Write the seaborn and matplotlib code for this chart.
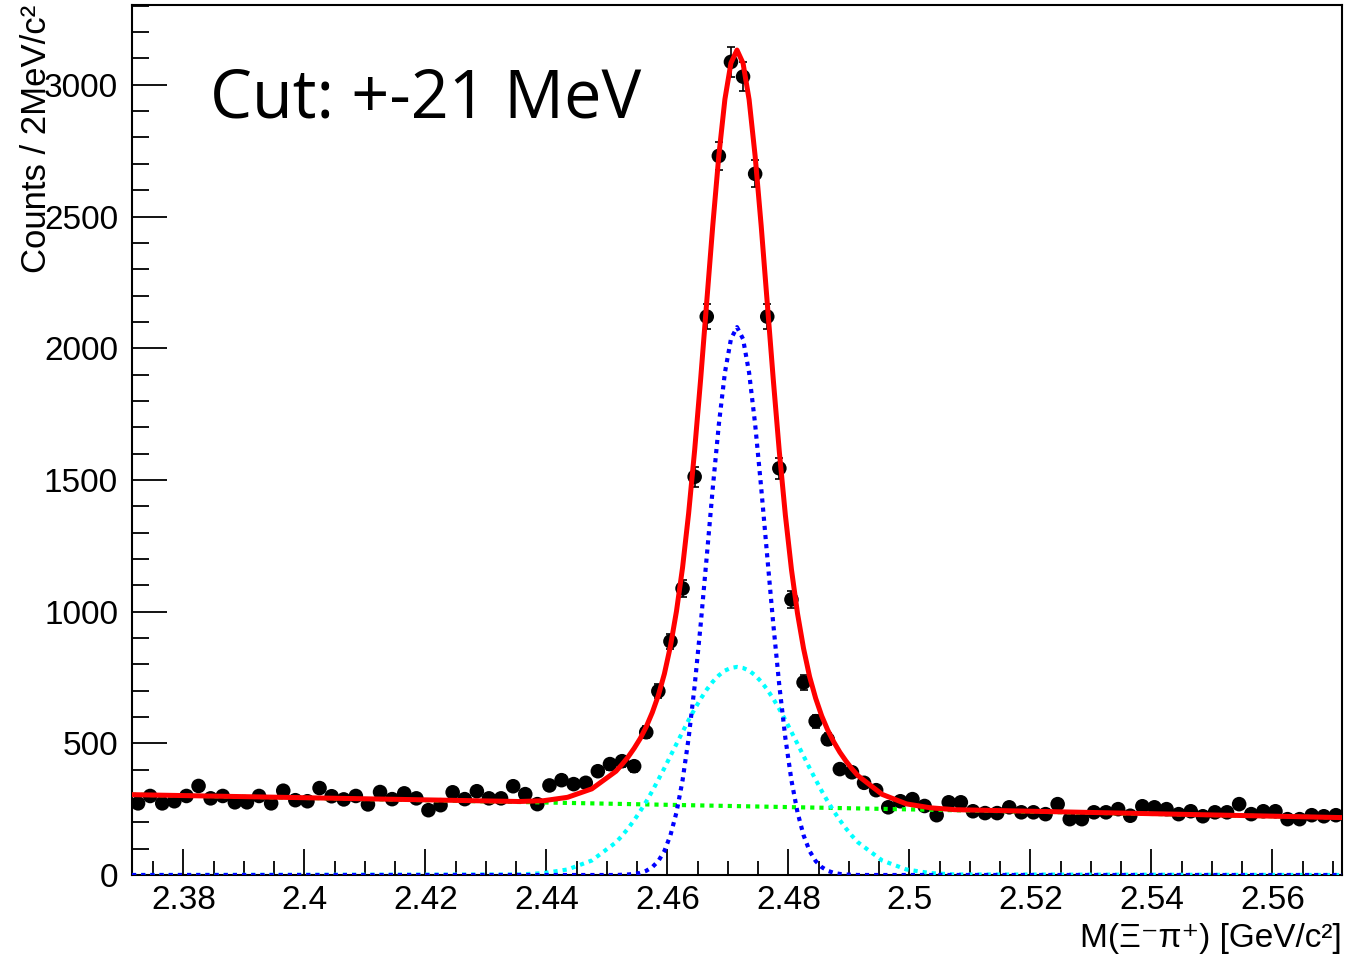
import numpy as np
import pandas as pd
import seaborn as sns
import matplotlib.pyplot as plt
from matplotlib.ticker import MultipleLocator, FormatStrFormatter

# histogram: 100 bins of 2 MeV between 2.3715 and 2.5715 GeV
bin_lo = 2.3715
bin_w = 0.002
counts = [272, 300, 272, 280, 300, 338, 291, 300, 276, 276,
          300, 272, 320, 284, 280, 330, 299, 287, 300, 268,
          315, 288, 310, 291, 246, 265, 314, 288, 318, 291,
          291, 337, 307, 269, 340, 360, 345, 350, 394, 421,
          432, 413, 542, 698, 887, 1088, 1512, 2120, 2730, 3087,
          3031, 2662, 2120, 1544, 1046, 731, 584, 515, 402, 390,
          350, 322, 257, 280, 288, 262, 227, 276, 276, 242,
          235, 235, 257, 238, 238, 231, 269, 212, 212, 238,
          238, 250, 225, 261, 257, 250, 231, 242, 223, 238,
          238, 269, 231, 242, 242, 212, 212, 227, 223, 227]

# fit curves
curve_x = [2.3715, 2.4355, 2.4395, 2.4435, 2.4475,
           2.4515, 2.4525, 2.4535, 2.4545, 2.4555, 2.4565, 2.4575, 2.4585, 2.4595, 2.4605,
           2.4615, 2.4625, 2.4635, 2.4645, 2.4655, 2.4665, 2.4675, 2.4685, 2.4695, 2.4705,
           2.4715,
           2.4725, 2.4735, 2.4745, 2.4755, 2.4765, 2.4775, 2.4785, 2.4795, 2.4805, 2.4815,
           2.4825, 2.4835, 2.4845, 2.4855, 2.4865, 2.4875, 2.4885, 2.4895, 2.4905, 2.4915,
           2.4955, 2.4995, 2.5035, 2.5075, 2.5715]
fit_total = [305, 279, 282, 295, 327,
             394, 420, 448, 481, 518, 563, 617, 682, 764, 869,
             1002, 1167, 1372, 1613, 1885, 2177, 2467, 2732, 2945, 3083,
             3132,
             3082, 2944, 2729, 2464, 2172, 1880, 1606, 1365, 1160, 993,
             860, 753, 671, 604, 550, 505, 466, 433, 403, 377,
             306, 270, 255, 248, 218]
sig_narrow = [0, 0, 0, 0, 0,
              0, 1, 2, 4, 8, 16, 30, 53, 91, 151,
              238, 359, 519, 718, 952, 1209, 1470, 1711, 1907, 2035,
              2080,
              2035, 1907, 1711, 1470, 1209, 952, 718, 519, 359, 238,
              151, 91, 53, 30, 16, 8, 4, 2, 1, 0,
              0, 0, 0, 0, 0]
sig_wide = [0, 2, 7, 21, 55,
            124, 149, 177, 208, 242, 279, 319, 362, 406, 452,
            498, 543, 588, 630, 669, 704, 734, 758, 776, 786,
            790,
            786, 776, 758, 734, 704, 669, 630, 588, 543, 498,
            452, 406, 362, 319, 279, 242, 208, 177, 149, 124,
            55, 21, 7, 2, 0]
bkg_x = [2.3715, 2.5715]
bkg_y = [305, 218]

centers = bin_lo + bin_w * (np.arange(len(counts)) + 0.5)
df = pd.DataFrame({'mass': centers, 'counts': counts})
curves = pd.DataFrame({'mass': curve_x, 'total': fit_total,
                       'narrow': sig_narrow, 'wide': sig_wide})

sns.set_style('ticks')
plt.rcParams['font.family'] = ['Liberation Sans', 'DejaVu Sans']
plt.rcParams['text.color'] = 'black'
plt.rcParams['xtick.color'] = 'black'
plt.rcParams['ytick.color'] = 'black'
plt.rcParams['axes.edgecolor'] = 'black'

W, H = 1346, 957
fig = plt.figure(figsize=(W / 100, H / 100), dpi=100)
ax = fig.add_axes([132 / W, 1 - 875 / H, (1342 - 132) / W, (875 - 5) / H])

ax.errorbar(df['mass'], df['counts'], yerr=np.sqrt(df['counts']), fmt='none',
            ecolor='black', elinewidth=1.2, capsize=3, capthick=1.2, zorder=3)
sns.scatterplot(data=df, x='mass', y='counts', color='black', s=110,
                edgecolor='none', ax=ax, zorder=3, legend=False)

dot = (0, (1, 1.2))
sns.lineplot(x=bkg_x, y=bkg_y, color='#00ff00', lw=3, linestyle=dot,
             estimator=None, sort=False, ax=ax, zorder=4)
sns.lineplot(data=curves, x='mass', y='wide', color='#00ffff', lw=3, linestyle=dot,
             estimator=None, sort=False, ax=ax, zorder=4)
sns.lineplot(data=curves, x='mass', y='narrow', color='#0000ff', lw=3, linestyle=dot,
             estimator=None, sort=False, ax=ax, zorder=4)
sns.lineplot(data=curves, x='mass', y='total', color='#ff0000', lw=3.6,
             estimator=None, sort=False, ax=ax, zorder=5)

ax.set_xlim(2.3715, 2.5715)
ax.set_ylim(0, 3303)
ax.set_xlabel('')
ax.set_ylabel('')
ax.xaxis.set_major_locator(MultipleLocator(0.02))
ax.xaxis.set_minor_locator(MultipleLocator(0.005))
ax.xaxis.set_major_formatter(FormatStrFormatter('%g'))
ax.yaxis.set_major_locator(MultipleLocator(500))
ax.yaxis.set_minor_locator(MultipleLocator(100))
ax.tick_params(which='both', direction='in', top=False, right=False,
               labelsize=24, width=1.3, color='black', labelcolor='black')
ax.tick_params(axis='y', which='major', length=25, pad=10)
ax.tick_params(axis='y', which='minor', length=12)
ax.tick_params(axis='x', which='major', length=19, pad=7)
ax.tick_params(axis='x', which='minor', length=10)
for s in ax.spines.values():
    s.set_linewidth(1.5)
    s.set_color('black')

fig.text(37 / W, 1 - 5 / H, 'Counts / 2MeV/c²', rotation=90, ha='center',
         va='top', fontsize=25, color='black')
fig.text(1342 / W, 1 - 947 / H, 'M(Ξ⁻π⁺) [GeV/c²]', ha='right',
         va='baseline', fontsize=24, color='black')
fig.text(210 / W, 1 - 118 / H, 'Cut: +-21 MeV', ha='left', va='baseline',
         fontsize=48, color='black', family=['Open Sans', 'DejaVu Sans'])

fig.savefig('out.png', dpi=100)
